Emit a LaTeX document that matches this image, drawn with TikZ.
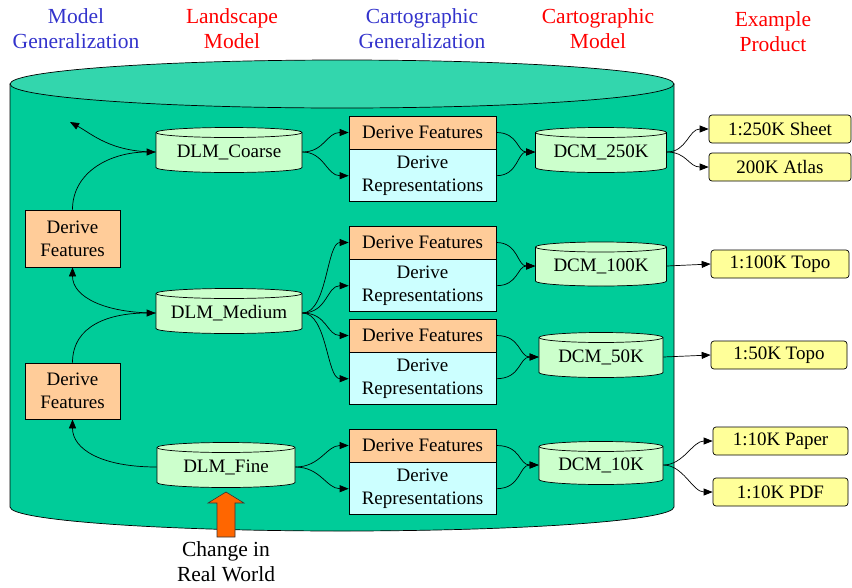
\documentclass[tikz,border=0pt]{standalone}
\usepackage{fontspec}
\setmainfont{Liberation Serif}
\usetikzlibrary{arrows.meta}
\definecolor{bigbody}{RGB}{0,204,153}
\definecolor{bigtop}{RGB}{51,214,173}
\definecolor{cylg}{RGB}{204,255,204}
\definecolor{orng}{RGB}{255,204,153}
\definecolor{cyanl}{RGB}{204,255,255}
\definecolor{yel}{RGB}{255,255,153}
\definecolor{ttlblue}{RGB}{51,51,204}
\definecolor{ttlred}{RGB}{255,0,0}
\definecolor{blockarrow}{RGB}{255,102,0}
\newcommand\mycyl[6]{%
  \filldraw[fill=cylg] (#2-#4,#3+#5-5) -- (#2-#4,#3-#5+5)
    arc[start angle=180,end angle=360,x radius=#4,y radius=5]
    -- (#2+#4,#3+#5-5)
    arc[start angle=0,end angle=180,x radius=#4,y radius=5] -- cycle;
  \draw (#2-#4,#3+#5-5) arc[start angle=180,end angle=360,x radius=#4,y radius=5];
  \node[txt,minimum width=2*#4,minimum height=2*#5] (#1) at (#2,#3-2) {#6};
}
\begin{document}
\begin{tikzpicture}[x=1pt,y=1pt,line width=0.7pt,
  >={Triangle[length=9pt,width=7pt]},
  txt/.style={font=\fontsize{19}{23}\selectfont,inner sep=0pt,align=center},
  ttl/.style={font=\fontsize{21.5}{25}\selectfont,align=center},
  lbox/.style={txt,draw,fill=orng,minimum width=95,minimum height=57},
  dfbox/.style={txt,draw,fill=orng,minimum width=147,minimum height=33},
  drbox/.style={txt,draw,fill=cyanl,minimum width=147,minimum height=52},
  prod/.style={txt,draw,fill=yel,rounded corners=3pt,minimum width=140,minimum height=28}]
\useasboundingbox (0,0) rectangle (852,-587);
% titles
\node[ttl,text=ttlblue] (t1) at (76,-28.5) {Model\\Generalization};
\node[ttl,text=ttlred] (t2) at (232,-28.5) {Landscape\\Model};
\node[ttl,text=ttlblue] (t3) at (422,-28.5) {Cartographic\\Generalization};
\node[ttl,text=ttlred] (t4) at (598,-28.5) {Cartographic\\Model};
\node[ttl,text=ttlred] (t5) at (773,-31.5) {Example\\Product};
% big cylinder
\filldraw[fill=bigbody] (10,-84) -- (10,-507)
  arc[start angle=180,end angle=360,x radius=332,y radius=24] -- (674,-84) -- cycle;
\filldraw[fill=bigtop] (342,-84) ellipse[x radius=332,y radius=24];
% DLM cylinders
\mycyl{dlmc}{229}{-150}{73}{22.5}{DLM\_Coarse}
\mycyl{dlmm}{229}{-311}{73}{22.5}{DLM\_Medium}
\mycyl{dlmf}{226}{-465}{69}{22.5}{DLM\_Fine}
% DCM cylinders
\mycyl{dcma}{601}{-150}{65.5}{22.5}{DCM\_250K}
\mycyl{dcmb}{601}{-264}{65.5}{22}{DCM\_100K}
\mycyl{dcmc}{601}{-355}{62}{22.5}{DCM\_50K}
\mycyl{dcmd}{601}{-463}{62}{21.5}{DCM\_10K}
% left derive features
\node[lbox] (lf1) at (72.5,-238.5) {Derive\\Features};
\node[lbox,minimum height=56] (lf2) at (72.5,-391) {Derive\\Features};
% split boxes
\node[dfbox] (df1) at (422.5,-132.5) {Derive Features};
\node[drbox,anchor=north] (dr1) at (df1.south) {Derive\\Representations};
\node[dfbox] (df2) at (422.5,-242.5) {Derive Features};
\node[drbox,anchor=north] (dr2) at (df2.south) {Derive\\Representations};
\node[dfbox] (df3) at (422.5,-335.5) {Derive Features};
\node[drbox,anchor=north] (dr3) at (df3.south) {Derive\\Representations};
\node[dfbox] (df4) at (422.5,-445.5) {Derive Features};
\node[drbox,anchor=north] (dr4) at (df4.south) {Derive\\Representations};
% products
\node[prod,minimum width=142] (p1) at (780,-129) {1:250K Sheet};
\node[prod,minimum width=142] (p2) at (780,-167) {200K Atlas};
\node[prod,minimum width=138] (p3) at (780,-264) {1:100K Topo};
\node[prod,minimum width=136] (p4) at (779,-355) {1:50K Topo};
\node[prod,minimum width=135] (p5) at (780.5,-441) {1:10K Paper};
\node[prod,minimum width=135] (p6) at (780.5,-492) {1:10K PDF};
% left connectors
\coordinate (stub) at (70,-122);
\draw[->] (dlmc.west) .. controls +(-45,0) and +(22,-12) .. (stub);
\draw[->] (lf1.north) .. controls +(0,38) and +(-45,0) .. (dlmc.west);
\draw[->] (dlmm.west) .. controls +(-50,0) and +(0,-30) .. (lf1.south);
\draw[->] (lf2.north) .. controls +(0,38) and +(-45,0) .. (dlmm.west);
\draw[->] (dlmf.west) .. controls +(-55,0) and +(0,-30) .. (lf2.south);
% DLM to split boxes
\draw[->] (dlmc.east) .. controls +(22,0) and +(-22,0) .. (df1.west);
\draw[->] (dlmc.east) .. controls +(22,0) and +(-22,0) .. (dr1.west);
\draw[->] (dlmm.east) .. controls +(25,0) and +(-22,0) .. (df2.west);
\draw[->] (dlmm.east) .. controls +(25,0) and +(-22,0) .. (dr2.west);
\draw[->] (dlmm.east) .. controls +(25,0) and +(-22,0) .. (df3.west);
\draw[->] (dlmm.east) .. controls +(25,0) and +(-22,0) .. (dr3.west);
\draw[->] (dlmf.east) .. controls +(25,0) and +(-22,0) .. (df4.west);
\draw[->] (dlmf.east) .. controls +(25,0) and +(-22,0) .. (dr4.west);
% split boxes to DCM
\draw[->] (df1.east) .. controls +(22,0) and +(-18,0) .. (dcma.west);
\draw[->] (dr1.east) .. controls +(22,0) and +(-18,0) .. (dcma.west);
\draw[->] (df2.east) .. controls +(22,0) and +(-18,0) .. (dcmb.west);
\draw[->] (dr2.east) .. controls +(22,0) and +(-18,0) .. (dcmb.west);
\draw[->] (df3.east) .. controls +(25,0) and +(-20,0) .. (dcmc.west);
\draw[->] (dr3.east) .. controls +(25,0) and +(-20,0) .. (dcmc.west);
\draw[->] (df4.east) .. controls +(25,0) and +(-20,0) .. (dcmd.west);
\draw[->] (dr4.east) .. controls +(25,0) and +(-20,0) .. (dcmd.west);
% DCM to products
\draw[->] (dcma.east) .. controls +(20,0) and +(-20,0) .. (p1.west);
\draw[->] (dcma.east) .. controls +(20,0) and +(-20,0) .. (p2.west);
\draw[->] (dcmb.east) -- (p3.west);
\draw[->] (dcmc.east) -- (p4.west);
\draw[->] (dcmd.east) .. controls +(20,0) and +(-20,0) .. (p5.west);
\draw[->] (dcmd.east) .. controls +(20,0) and +(-20,0) .. (p6.west);
% block arrow
\filldraw[fill=blockarrow,draw=black!80,line width=0.6pt]
  (217,-537) -- (217,-503) -- (208,-503) -- (226,-492) -- (244,-503)
  -- (235,-503) -- (235,-537) -- cycle;
\node[ttl] (chg) at (226,-562) {Change in\\Real World};
\end{tikzpicture}
\end{document}
